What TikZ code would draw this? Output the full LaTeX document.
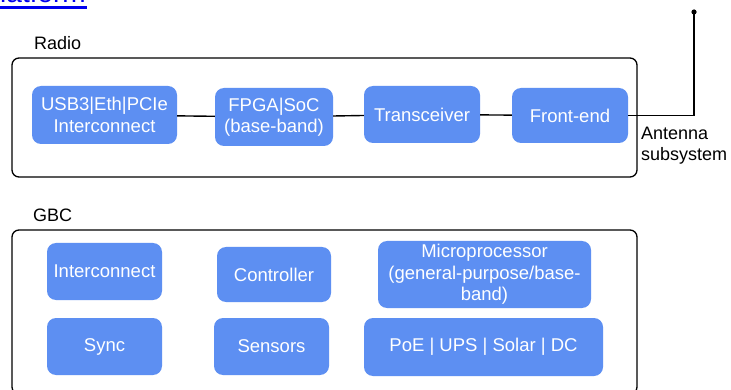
\documentclass[tikz,border=0pt]{standalone}
\usepackage{fontspec}
\setmainfont{Liberation Sans}
\definecolor{b1}{HTML}{5D8FF2}
\definecolor{link}{HTML}{0000EE}

\begin{document}
\begin{tikzpicture}[x=1pt,y=-1pt,
  blk/.style={fill=b1,draw=none,rounded corners=9pt,text=white,align=center,
    font=\fontsize{18.5}{21.5}\selectfont,inner sep=2pt},
  frame/.style={draw=black,line width=1.3pt,rounded corners=7pt},
  lbl/.style={font=\fontsize{18}{21}\selectfont,inner sep=0pt},
  wire/.style={draw=black,line width=1.4pt}]
\clip (0,0) rectangle (731,390);
\fill[white] (0,0) rectangle (731,390);

% cut-off link at the top
\node[anchor=base east,text=link,font=\fontsize{28}{30}\selectfont,inner sep=0pt] (plat) at (86,3) {platform};
\draw[link,line width=2.4pt] ([yshift=-4.5pt]plat.base west) -- ([yshift=-4.5pt,xshift=1pt]plat.base east);

% Radio
\node[lbl,anchor=west] (radio) at (34,43) {Radio};
\draw[frame] (12,58) rectangle (637,177);
\node[blk,minimum width=145pt,minimum height=58pt] (usb) at (104.5,115) {USB3|Eth|PCIe\\Interconnect};
\node[blk,minimum width=118pt,minimum height=58pt] (fpga) at (274,117) {FPGA|SoC\\(base-band)};
\node[blk,minimum width=116pt,minimum height=57pt] (trx) at (422,114.5) {Transceiver};
\node[blk,minimum width=116pt,minimum height=55pt] (fe) at (570,115.5) {Front-end};
\draw[wire] (usb) -- (fpga);
\draw[wire] (fpga) -- (trx);
\draw[wire] (trx) -- (fe);

% antenna
\coordinate (ant) at (694,12);
\draw[wire] (fe.east) -- (fe.east -| ant) -- (ant);
\fill (ant) circle (2.6pt);
\node[lbl,anchor=west,align=left] (antlbl) at (641,146) {Antenna\\subsystem};

% GBC
\node[lbl,anchor=west] (gbc) at (33,215) {GBC};
\draw[frame] (12,230) rectangle (637,394);
\node[blk,minimum width=115pt,minimum height=57pt] (ic) at (104.5,271.5) {Interconnect};
\node[blk,minimum width=114pt,minimum height=55pt] (ctrl) at (274,274.5) {Controller};
\node[blk,minimum width=213pt,minimum height=67pt] (mp) at (484.5,274.5) {Microprocessor\\(general-purpose/base-\\band)};
\node[blk,minimum width=115pt,minimum height=57pt] (sync) at (104.5,346.5) {Sync};
\node[blk,minimum width=115pt,minimum height=57pt] (sens) at (271.5,346.5) {Sensors};
\node[blk,minimum width=239pt,minimum height=58pt] (pwr) at (483.5,347) {PoE | UPS | Solar | DC};
\end{tikzpicture}
\end{document}
